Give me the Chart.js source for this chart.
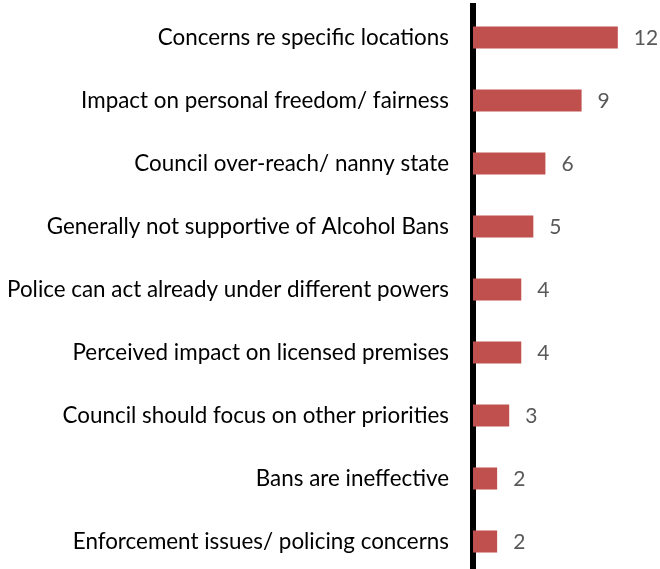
<!DOCTYPE html>
<html lang="en">
<head>
  <meta charset="UTF-8">
  <title>Reasons for opposing Alcohol Bans</title>
  <style>
    html, body {
      margin: 0;
      padding: 0;
      background: #fff;
      overflow: hidden;
    }
    .wrap {
      position: relative;
      width: 660px;
      height: 576px;
    }
  </style>
</head>
<body>
  <div class="wrap">
    <canvas id="reasonsChart"></canvas>
  </div>

  <script src="https://cdn.jsdelivr.net/npm/chart.js"></script>
  <script>
    const reasons = [
      'Concerns re specific locations',
      'Impact on personal freedom/ fairness',
      'Council over-reach/ nanny state',
      'Generally not supportive of Alcohol Bans',
      'Police can act already under different powers',
      'Perceived impact on licensed premises',
      'Council should focus on other priorities',
      'Bans are ineffective',
      'Enforcement issues/ policing concerns'
    ];
    const mentions = [12, 9, 6, 5, 4, 4, 3, 2, 2];

    const FONT = 'Lato, "Open Sans", sans-serif';
    const AXIS_LEFT = 473;

    // number after each bar
    const barValues = {
      id: 'barValues',
      afterDatasetsDraw(chart) {
        const ctx = chart.ctx;
        const meta = chart.getDatasetMeta(0);
        ctx.save();
        ctx.font = '21px ' + FONT;
        ctx.fillStyle = '#595959';
        ctx.textAlign = 'left';
        ctx.textBaseline = 'middle';
        meta.data.forEach((bar, i) => {
          ctx.fillText(mentions[i], bar.x + 16, bar.y + 1);
        });
        ctx.restore();
      }
    };

    new Chart(document.getElementById('reasonsChart'), {
      type: 'bar',
      data: {
        labels: reasons,
        datasets: [{
          data: mentions,
          backgroundColor: '#C0504D',
          borderWidth: 0,
          barPercentage: 0.7,
          categoryPercentage: 0.5
        }]
      },
      options: {
        indexAxis: 'y',
        responsive: true,
        maintainAspectRatio: false,
        animation: false,
        layout: {
          autoPadding: false,
          padding: { top: 6, right: 6, bottom: 3, left: 0 }
        },
        plugins: {
          legend: { display: false },
          tooltip: { enabled: false }
        },
        scales: {
          x: {
            min: 0,
            max: 15,
            display: false
          },
          y: {
            grid: { display: false, drawTicks: false },
            border: { display: true, color: '#000', width: 6 },
            ticks: {
              color: '#000',
              padding: 24,
              font: { family: FONT, size: 22.4 }
            },
            afterFit(scale) {
              scale.width = AXIS_LEFT;
              scale.paddingTop = 0;
              scale.paddingBottom = 0;
            }
          }
        }
      },
      plugins: [barValues]
    });
  </script>
</body>
</html>
